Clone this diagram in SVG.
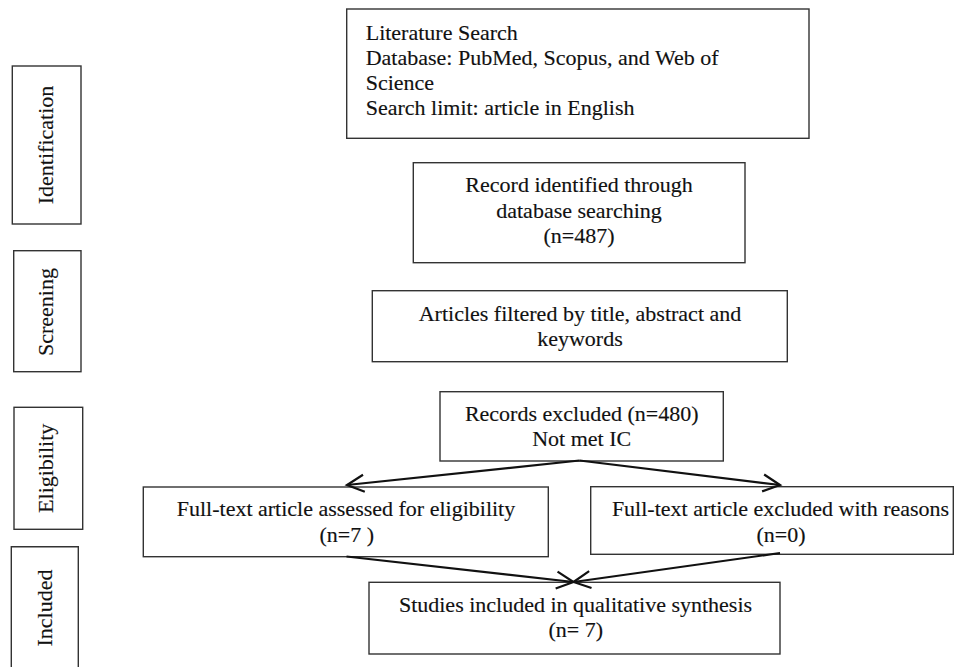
<svg xmlns="http://www.w3.org/2000/svg" width="960" height="667" viewBox="0 0 960 667">
<style>
.box{fill:#fff;stroke:#333;stroke-width:1.4}
.t{font-family:"Liberation Serif","Times New Roman",serif;font-size:22px;fill:#111;stroke:#111;stroke-width:0.15}
.c{text-anchor:middle}
.conn{stroke:#111;stroke-width:2.2;fill:none;marker-end:url(#arr)}
</style>
<defs>
<marker id="arr" markerUnits="userSpaceOnUse" markerWidth="30" markerHeight="30" viewBox="-20 -15 30 30" refX="0" refY="0" orient="auto" overflow="visible">
<path d="M-17,-8.5 L0,0 L-17,8.5" fill="none" stroke="#111" stroke-width="2.2"/>
</marker>
</defs>
<rect width="960" height="667" fill="#fff"/>
<g id="stage-identification">
<rect class="box" x="12.3" y="66" width="68.7" height="158"/>
<text class="t c" transform="translate(53,145) rotate(-90)">Identification</text>
</g>
<g id="stage-screening">
<rect class="box" x="13.7" y="250.7" width="67.3" height="121"/>
<text class="t c" transform="translate(53,312) rotate(-90)">Screening</text>
</g>
<g id="stage-eligibility">
<rect class="box" x="14" y="407.3" width="68.7" height="122"/>
<text class="t c" transform="translate(53.3,468.3) rotate(-90)">Eligibility</text>
</g>
<g id="stage-included">
<path class="box" d="M11.3,670 V546.7 H78.3 V670"/>
<text class="t c" transform="translate(51.5,608) rotate(-90)">Included</text>
</g>
<g id="literature-search">
<rect class="box" x="346.7" y="9" width="462.3" height="129.3"/>
<text class="t" x="365.7" y="40">Literature Search</text>
<text class="t" x="365.7" y="65">Database: PubMed, Scopus, and Web of</text>
<text class="t" x="365.7" y="90">Science</text>
<text class="t" x="365.7" y="115">Search limit: article in English</text>
</g>
<g id="records-identified">
<rect class="box" x="413.3" y="162.7" width="331.7" height="100"/>
<text class="t c" x="579" y="192">Record identified through</text>
<text class="t c" x="579" y="218">database searching</text>
<text class="t c" x="579" y="243">(n=487)</text>
</g>
<g id="articles-filtered">
<rect class="box" x="372.3" y="290.7" width="415" height="71"/>
<text class="t c" x="580" y="321">Articles filtered by title, abstract and</text>
<text class="t c" x="580" y="346">keywords</text>
</g>
<g id="records-excluded">
<rect class="box" x="440" y="391.7" width="283.3" height="69.3"/>
<text class="t c" x="581.7" y="420.5">Records excluded (n=480)</text>
<text class="t c" x="581.7" y="446">Not met IC</text>
</g>
<g id="fulltext-assessed">
<rect class="box" x="143.3" y="487" width="405" height="69.7"/>
<text class="t c" x="346" y="516">Full-text article assessed for eligibility</text>
<text class="t c" x="346.7" y="542">(n=7 )</text>
</g>
<g id="fulltext-excluded">
<rect class="box" x="590.7" y="486.7" width="362.6" height="67.6"/>
<text class="t c" x="780.5" y="516">Full-text article excluded with reasons</text>
<text class="t c" x="781" y="542">(n=0)</text>
</g>
<g id="studies-included">
<rect class="box" x="369" y="582.3" width="411" height="71.7"/>
<text class="t c" x="575.5" y="611.5">Studies included in qualitative synthesis</text>
<text class="t c" x="575.7" y="637">(n= 7)</text>
</g>
<g id="connectors">
<path class="conn" d="M579.5,460.5 L347,485"/>
<path class="conn" d="M579.5,460.5 L780,485"/>
<path class="conn" d="M346.5,556.5 L573.5,582"/>
<path class="conn" d="M780,553 L573.5,582"/>
</g>
</svg>
